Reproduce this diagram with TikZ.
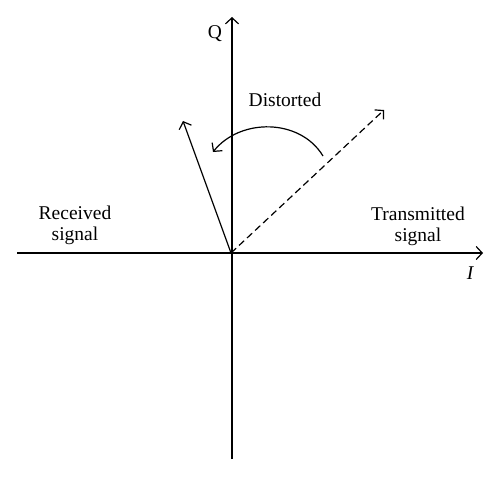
\documentclass[tikz,border=0pt]{standalone}
\usepackage{fontspec}
\setmainfont{Liberation Serif}
\usetikzlibrary{arrows.meta}
\begin{document}
\begin{tikzpicture}[x=1pt,y=-1pt,
  ax/.style={line width=1.2pt,-{Straight Barb[length=6pt,width=13pt,line width=1.2pt]}},
  lbl/.style={font=\fontsize{19.5}{21}\selectfont,align=center,inner sep=0pt}]
\useasboundingbox (0,0) rectangle (500,476);
\coordinate (O) at (231,253);
\coordinate (Ileft) at (17,253);
\coordinate (Iright) at (483,253);
\coordinate (Qbot) at (232,459);
\coordinate (Qtop) at (232,17);
\coordinate (T) at (384,110);
\coordinate (R) at (183,121);
\coordinate (cs) at (323,156);
\coordinate (ce) at (213,152);
\draw[ax] (Ileft) -- (Iright);
\draw[ax] (Qbot) -- (Qtop);
\draw[ax,dashed,dash pattern=on 7pt off 4pt] (O) -- (T);
\draw[ax] (O) -- (R);
\draw[ax] (cs) .. controls (300,118) and (240,118) .. (ce);
\node[lbl] (q) at (215,34) {Q};
\node[lbl] (i) at (470,273) {\itshape I};
\node[lbl] (d) at (285,100) {Distorted};
\node[lbl] (rs) at (75,225) {Received\\signal};
\node[lbl] (ts) at (418,226) {Transmitted\\signal};
\end{tikzpicture}
\end{document}
